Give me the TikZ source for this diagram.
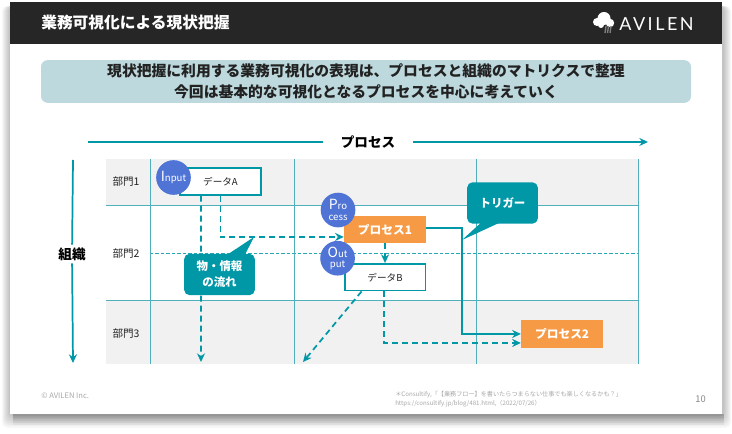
\documentclass[tikz,border=0pt]{standalone}
\usepackage{fontspec}
\setmainfont{Noto Sans CJK JP}
\newfontfamily\logofont[LetterSpace=14]{Lato}
\usepackage{tikz}
\usetikzlibrary{arrows.meta, positioning}
\definecolor{teal1}{HTML}{0097A7}
\definecolor{grid1}{HTML}{4FAFBA}
\definecolor{band1}{HTML}{F1F1F1}
\definecolor{head1}{HTML}{262626}
\definecolor{note1}{HTML}{BDD9DD}
\definecolor{orange1}{HTML}{F79A45}
\definecolor{blue1}{HTML}{4F74D6}
\definecolor{text1}{HTML}{222222}
\definecolor{foot1}{HTML}{A8A8A8}
\tikzstyle{band} = [fill=band1, draw=none]
\tikzstyle{gridline} = [draw=grid1, line width=0.65pt]
\tikzstyle{griddash} = [color=teal1!85, line width=1pt, dash pattern=on 2.6pt off 1.5pt]
\tikzstyle{dept} = [font=\fontsize{7.9}{9}\selectfont, text=text1]
\tikzstyle{databox} = [rectangle, minimum width=60.5pt, minimum height=20pt, text centered, draw=teal1, line width=1.3pt, fill=white, font=\fontsize{7.2}{9}\selectfont, text=text1, inner sep=0pt]
\tikzstyle{procbox} = [rectangle, minimum width=61.5pt, minimum height=20.5pt, text centered, fill=orange1, text=white, font=\fontsize{8.8}{10}\selectfont\bfseries, inner sep=0pt]
\tikzstyle{badge} = [circle, minimum size=26pt, inner sep=0pt, fill=blue1, text=white, align=center, font=\fontsize{7.2}{7.8}\selectfont]
\tikzstyle{balloon} = [rectangle, rounded corners=4pt, minimum width=53pt, minimum height=31pt, fill=teal1, text=white, align=center, font=\fontsize{8.6}{12}\selectfont\bfseries, inner sep=0pt]
\tikzstyle{arrow} = [teal1, line width=1.3pt, -{Stealth[length=6.5pt,width=6pt]}]
\tikzstyle{dasharrow} = [arrow, dash pattern=on 4.5pt off 3pt]
\tikzstyle{axis} = [teal1, line width=1.3pt]
\tikzstyle{axislabel} = [font=\fontsize{10.2}{12}\selectfont\bfseries, text=black, inner sep=0pt]

\begin{document}
\begin{tikzpicture}[x=0.75pt, y=-0.75pt, node distance=36pt]

\useasboundingbox (0,0) rectangle (732,434);
\fill [white] (0,0) rectangle (732,434);

% Slide with its soft shadow
\foreach \i in {1,...,8} {
  \fill [black, opacity=0.03, rounded corners=4pt] (10-\i,6) rectangle (723+\i,415+\i*1.6);
}
\foreach \i in {1,...,6} {
  \fill [black, opacity=0.04] (13,414) rectangle (724,414+\i*1.8);
}
\fill [white] (10,2) rectangle (722,414);
\fill [head1] (10,2) rectangle (722,44);

% Header
\node (title) [anchor=west, text=white, font=\fontsize{11.8}{14}\selectfont\bfseries, inner sep=0pt] at (41,23) {業務可視化による現状把握};
\node (brand) [text=white, font=\fontsize{13.5}{15}\logofont, inner sep=0pt] at (656.5,24) {AVILEN};
\fill [white] (604,18.5) circle (6.5) (597,22) circle (4) (610,23) circle (4.2) (601,25) circle (3);
\foreach \x in {606,608.5,611} {
  \draw [gray, line width=1pt] (\x,26) -- (\x-1,33);
}

% Summary box
\node (summary) [rectangle, rounded corners=5pt, minimum width=487.5pt, minimum height=32pt, fill=note1, text=text1, align=center, font=\fontsize{11.1}{16}\selectfont\bfseries, inner sep=0pt] at (366,81.5) {現状把握に利用する業務可視化の表現は、プロセスと組織のマトリクスで整理\\今回は基本的な可視化となるプロセスを中心に考えていく};

% Matrix
\fill [band] (106,159) rectangle (638,205);
\fill [band] (106,300) rectangle (638,364);
\draw [gridline] (106,205) -- (638,205);
\draw [gridline] (106,300) -- (638,300);
\draw [griddash] (150,253.5) -- (638,253.5);
\foreach \x in {150,294,476,638} {
  \draw [gridline] (\x,159) -- (\x,364);
}
\node (dept1) [dept] at (126,182) {部門1};
\node (dept2) [dept, below of=dept1, yshift=-17.6pt] {部門2};
\node (dept3) [dept, below of=dept2, yshift=-24pt] {部門3};

% Axes
\coordinate (procstart) at (88,142);
\coordinate (procend) at (648,142);
\node (proclabel) [axislabel, inner xsep=13.5pt] at (368,142) {プロセス};
\draw [axis] (procstart) -- (proclabel);
\draw [arrow] (proclabel) -- (procend);
\coordinate (orgstart) at (73,160);
\coordinate (orgend) at (73,363);
\node (orglabel) [axislabel, inner ysep=2pt] at (72,254) {組織};
\draw [axis] (orgstart) -- (orglabel);
\draw [arrow] (orglabel) -- (orgend);

% Boxes
\node (dataA) [databox] at (220.5,181.5) {データA};
\node (proc1) [procbox, below of=dataA, xshift=123.4pt] {プロセス1};
\node (dataB) [databox, below of=proc1, yshift=0.2pt] {データB};
\node (proc2) [procbox, below of=dataB, xshift=132.8pt, yshift=-6.55pt] {プロセス2};

% Arrows
\coordinate (dropA) at (201,362);
\coordinate (dropB) at (303,362);
\draw [dasharrow] ([xshift=-14.6pt]dataA.south) -- (dropA);
\draw [dasharrow] (dataA.south) |- ([yshift=-5.6pt]proc1.west);
\draw [dasharrow] (proc1) -- (dataB);
\draw [dasharrow] ([xshift=-17.6pt]dataB.south) -- (dropB);
\draw [dasharrow] ([xshift=-1pt]dataB.south) |- ([yshift=-6.75pt]proc2.west);
\draw [arrow] ([yshift=1pt]proc1.east) -- ++(36,0) |- (proc2.west);

% Redraw the boxes the arrows start from
\node [procbox] at (proc1) {プロセス1};
\node [databox] at (dataB) {データB};

% Badges
\node (input) [badge, left of=dataA, xshift=0.75pt, yshift=3pt] {{\fontsize{10.5}{10.5}\selectfont I}nput};
\node (process) [badge, left of=proc1, xshift=0.75pt, yshift=14.6pt] {{\fontsize{10.5}{10.5}\selectfont P}ro\\cess};
\node (output) [badge, left of=dataB, xshift=0.4pt, yshift=14.25pt] {{\fontsize{10.5}{10.5}\selectfont O}ut\\put};

% Balloons
\node (flow) [balloon] at (219.5,274.5) {物・情報\\の流れ};
\coordinate (flowtip) at (254,237);
\fill [teal1] ([xshift=5.6pt,yshift=-1pt]flow.north) -- (flowtip) -- ([xshift=19pt,yshift=-1pt]flow.north) -- cycle;
\node (trigger) [balloon] at (502.5,203) {トリガー};
\coordinate (triggertip) at (462,240);
\fill [teal1] ([xshift=-16pt,yshift=1pt]trigger.south) -- (triggertip) -- ([xshift=-2pt,yshift=1pt]trigger.south) -- cycle;

% Footer
\node (copy) [anchor=west, text=foot1, font=\fontsize{5.7}{7}\selectfont, inner sep=0pt] at (41,396) {© AVILEN Inc.};
\node (cite) [anchor=west, text=foot1, align=left, font=\fontsize{4.6}{6.7}\selectfont, inner sep=0pt] at (395,399) {＊Consultify,「【業務フロー】を書いたらつまらない仕事でも楽しくなるかも？」\\https://consultify.jp/blog/481.html,（2022/07/26）};
\node (page) [text=foot1!80!black, font=\fontsize{7}{8}\selectfont, inner sep=0pt] at (700.5,399) {10};

\end{tikzpicture}
\end{document}
